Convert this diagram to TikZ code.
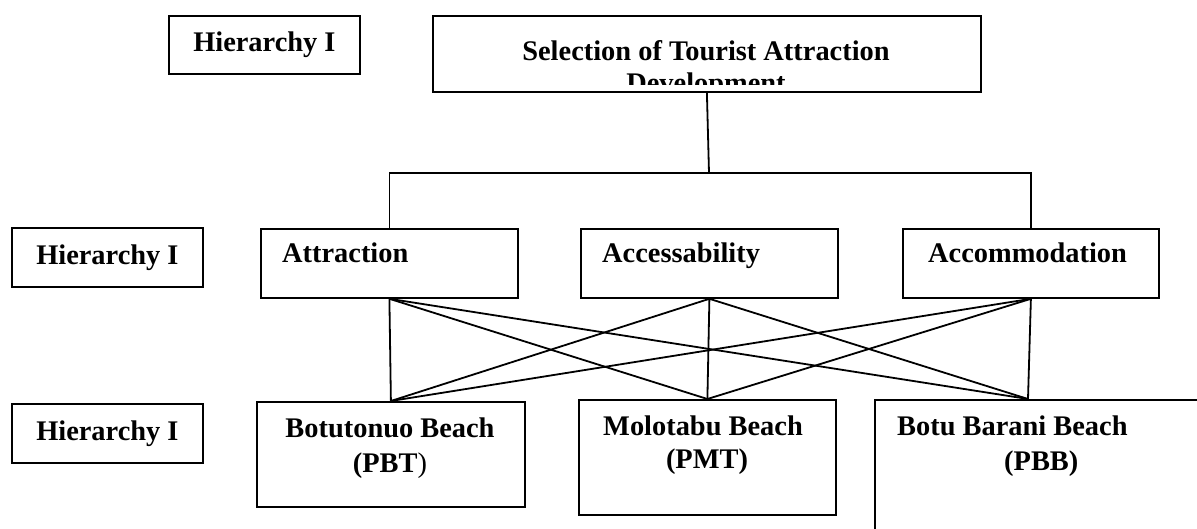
\documentclass[tikz,border=0pt]{standalone}
\usepackage{fontspec}
\setmainfont{Liberation Serif}
\usetikzlibrary{calc}

\tikzset{
  box/.style={draw,line width=1.8pt,inner sep=0pt,anchor=north west},
  levelbox/.style={box,minimum width=191pt,minimum height=59pt},
  txt/.style={inner sep=0pt},
  link/.style={line width=1.8pt}
}

\begin{document}
\begin{tikzpicture}[x=1pt,y=-1pt,every node/.append style={font=\fontsize{28.4}{35}\selectfont\bfseries}]
  \clip (0,0) rectangle (1197,529);

  % nivelurile
  \node[levelbox,minimum height=58pt] (lev1) at (168,15) {Hierarchy I};
  \node[levelbox] (lev2) at (11,227) {Hierarchy I};
  \node[levelbox] (lev3) at (11,403) {Hierarchy I};

  % scopul
  \node[box,minimum width=548pt,minimum height=76pt] (goal) at (432,15) {};
  \node[txt,anchor=base] (goaltxt) at (706,61) {Selection of Tourist Attraction};
  \begin{scope}
    \clip (432,15) rectangle (980,85);
    \node[txt,anchor=base] (goaltxtb) at (706,93) {Development};
  \end{scope}

  % criteriile
  \node[box,minimum width=257pt,minimum height=69pt] (attr) at (260,228) {};
  \node[txt,anchor=base west] (attrtxt) at (282,263) {Attraction};
  \node[box,minimum width=257pt,minimum height=69pt] (access) at (580,228) {};
  \node[txt,anchor=base west] (accesstxt) at (602,263) {Accessability};
  \node[box,minimum width=256pt,minimum height=69pt] (accom) at (902,228) {};
  \node[txt,anchor=base west] (accomtxt) at (928,263) {Accommodation};

  % alternativele
  \node[box,minimum width=268pt,minimum height=105pt] (pbt) at (256,401) {};
  \node[txt,anchor=base] (pbttxt) at (390,437) {Botutonuo Beach};
  \node[txt,anchor=base] (pbtcode) at (390,472) {(PBT\textmd{)}};
  \node[box,minimum width=257pt,minimum height=115pt] (pmt) at (578,399) {};
  \node[txt,anchor=base] (pmttxt) at (703,435) {Molotabu Beach};
  \node[txt,anchor=base] (pmttcode) at (707,468) {(PMT)};
  \node[box,minimum width=400pt,minimum height=200pt] (pbb) at (874,399) {};
  \node[txt,anchor=base west] (pbbtxt) at (897,435) {Botu Barani Beach};
  \node[txt,anchor=base west] (pbbcode) at (1004,470) {(PBB)};
  \coordinate (pbbin) at ($(pbb.north west)+(154,0)$);

  % legaturile
  \coordinate (fork) at (709,173);
  \draw[link] (goal.south) -- (fork);
  \draw[link] (attr.north) |- (fork) -| (accom.north);
  \foreach \a in {attr,access,accom}
    \foreach \b in {pbt.north,pmt.north,pbbin}
      \draw[link] (\a.south) -- (\b);
\end{tikzpicture}
\end{document}
